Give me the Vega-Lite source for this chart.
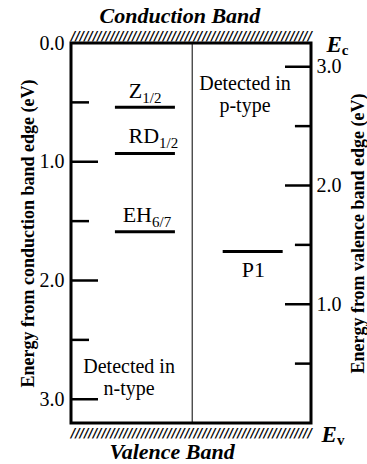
{
  "$schema": "https://vega.github.io/schema/vega-lite/v6.json",
  "width": 240,
  "height": 380,
  "autosize": "none",
  "padding": {"left": 71, "top": 43, "right": 56, "bottom": 41},
  "background": "white",
  "config": {
    "view": {"stroke": "black", "strokeWidth": 3},
    "font": "Liberation Serif",
    "text": {"font": "Liberation Serif", "color": "black"}
  },
  "datasets": {
    "ticks_c": [
      {"ec": 0.5, "kind": "minor"}, {"ec": 1.0, "kind": "major"},
      {"ec": 1.5, "kind": "minor"}, {"ec": 2.0, "kind": "major"},
      {"ec": 2.5, "kind": "minor"}, {"ec": 3.0, "kind": "major"}
    ],
    "ticks_v": [
      {"ev": 0.5, "kind": "minor"}, {"ev": 1.0, "kind": "major"},
      {"ev": 1.5, "kind": "minor"}, {"ev": 2.0, "kind": "major"},
      {"ev": 2.5, "kind": "minor"}, {"ev": 3.0, "kind": "major"}
    ],
    "levels": [
      {"defect": "Z1/2", "panel": "n-type", "ec": 0.54},
      {"defect": "RD1/2", "panel": "n-type", "ec": 0.93},
      {"defect": "EH6/7", "panel": "n-type", "ec": 1.59},
      {"defect": "P1", "panel": "p-type", "ec": 1.755}
    ],
    "labels": [
      {"kind": "level", "main": "Z", "sub": "1/2", "x": 0.297, "ec": 0.467},
      {"kind": "level", "main": "RD", "sub": "1/2", "x": 0.367, "ec": 0.842},
      {"kind": "level", "main": "EH", "sub": "6/7", "x": 0.3375, "ec": 1.507},
      {"kind": "level", "main": "P1", "sub": "", "x": 0.808, "ec": 1.97},
      {"kind": "edge", "main": "E", "sub": "c", "x": 1.128, "ec": 0.076},
      {"kind": "edge", "main": "E", "sub": "v", "x": 1.108, "ec": 3.36}
    ],
    "notes": [
      {"kind": "band", "text": "Conduction Band", "x": 0.454, "ec": -0.17},
      {"kind": "band", "text": "Valence Band", "x": 0.421, "ec": 3.505},
      {"kind": "detect", "text": ["Detected in", "p-type"], "x": 0.725, "ec": 0.396},
      {"kind": "detect", "text": ["Detected in", "n-type"], "x": 0.242, "ec": 2.779}
    ],
    "hatch": [
      {"band": "conduction", "x": 0.0, "ec": -0.06},
      {"band": "valence", "x": 0.0, "ec": 3.28}
    ]
  },
  "resolve": {"scale": {"y": "independent"}},
  "layer": [
    {
      "layer": [
        {
          "data": {"name": "ticks_c"},
          "transform": [{"filter": "datum.kind == 'major'"}],
          "mark": {"type": "rule", "strokeWidth": 2.5, "color": "black"},
          "encoding": {
            "x": {"datum": 0, "scale": {"domain": [0, 1], "nice": false, "zero": false}, "axis": null},
            "x2": {"datum": 0.1125},
            "y": {
              "field": "ec", "type": "quantitative",
              "scale": {"domain": [0, 3.2], "reverse": true, "nice": false, "zero": false},
              "axis": {
                "values": [0, 1, 2, 3], "format": ".1f", "ticks": false, "domain": false, "grid": false,
                "labelFont": "Liberation Serif", "labelFontSize": 20, "labelColor": "black",
                "labelPadding": 7, "labelFlush": false, "labelOverlap": false,
                "title": "Energy from conduction band edge (eV)",
                "titleFont": "Liberation Serif", "titleFontWeight": "bold", "titleFontSize": 18,
                "titleColor": "black", "titleX": -43, "titleY": 190, "titleAngle": 270,
                "titleAlign": "center", "titleBaseline": "middle"
              }
            }
          }
        },
        {
          "data": {"name": "ticks_c"},
          "transform": [{"filter": "datum.kind == 'minor'"}],
          "mark": {"type": "rule", "strokeWidth": 2.5, "color": "black"},
          "encoding": {
            "x": {"datum": 0},
            "x2": {"datum": 0.075},
            "y": {"field": "ec", "type": "quantitative"}
          }
        },
        {
          "data": {"values": [{}]},
          "mark": {"type": "rule", "strokeWidth": 1, "color": "black"},
          "encoding": {
            "x": {"datum": 0.505},
            "y": {"datum": 0},
            "y2": {"datum": 3.2}
          }
        },
        {
          "data": {"name": "levels"},
          "transform": [{"filter": "datum.panel == 'n-type'"}],
          "mark": {"type": "rule", "strokeWidth": 3, "color": "black"},
          "encoding": {
            "x": {"datum": 0.183},
            "x2": {"datum": 0.433},
            "y": {"field": "ec", "type": "quantitative"}
          }
        },
        {
          "data": {"name": "levels"},
          "transform": [{"filter": "datum.panel == 'p-type'"}],
          "mark": {"type": "rule", "strokeWidth": 3, "color": "black"},
          "encoding": {
            "x": {"datum": 0.632},
            "x2": {"datum": 0.882},
            "y": {"field": "ec", "type": "quantitative"}
          }
        },
        {
          "data": {"name": "labels"},
          "transform": [{"filter": "datum.kind == 'level'"}],
          "mark": {"type": "text", "align": "right", "baseline": "alphabetic", "fontSize": 22},
          "encoding": {
            "x": {"field": "x", "type": "quantitative"},
            "y": {"field": "ec", "type": "quantitative"},
            "text": {"field": "main"}
          }
        },
        {
          "data": {"name": "labels"},
          "transform": [{"filter": "datum.kind == 'level'"}],
          "mark": {"type": "text", "align": "left", "baseline": "alphabetic", "fontSize": 15, "dy": 5},
          "encoding": {
            "x": {"field": "x", "type": "quantitative"},
            "y": {"field": "ec", "type": "quantitative"},
            "text": {"field": "sub"}
          }
        },
        {
          "data": {"name": "labels"},
          "transform": [{"filter": "datum.kind == 'edge'"}],
          "mark": {"type": "text", "align": "right", "baseline": "alphabetic", "fontSize": 23, "fontWeight": "bold", "fontStyle": "italic"},
          "encoding": {
            "x": {"field": "x", "type": "quantitative"},
            "y": {"field": "ec", "type": "quantitative"},
            "text": {"field": "main"}
          }
        },
        {
          "data": {"name": "labels"},
          "transform": [{"filter": "datum.kind == 'edge'"}],
          "mark": {"type": "text", "align": "left", "baseline": "alphabetic", "fontSize": 15, "fontWeight": "bold", "dy": 3},
          "encoding": {
            "x": {"field": "x", "type": "quantitative"},
            "y": {"field": "ec", "type": "quantitative"},
            "text": {"field": "sub"}
          }
        },
        {
          "data": {"name": "notes"},
          "transform": [{"filter": "datum.kind == 'band'"}],
          "mark": {"type": "text", "align": "center", "baseline": "alphabetic", "fontSize": 22, "fontWeight": "bold", "fontStyle": "italic"},
          "encoding": {
            "x": {"field": "x", "type": "quantitative"},
            "y": {"field": "ec", "type": "quantitative"},
            "text": {"field": "text"}
          }
        },
        {
          "data": {"name": "notes"},
          "transform": [{"filter": "datum.kind == 'detect'"}],
          "mark": {"type": "text", "align": "center", "baseline": "alphabetic", "fontSize": 20, "lineHeight": 22},
          "encoding": {
            "x": {"field": "x", "type": "quantitative"},
            "y": {"field": "ec", "type": "quantitative"},
            "text": {"field": "text"}
          }
        },
        {
          "data": {"name": "hatch"},
          "mark": {"type": "text", "align": "left", "baseline": "middle", "font": "DejaVu Sans", "fontSize": 12, "fontWeight": "bold", "fontStyle": "italic"},
          "encoding": {
            "x": {"field": "x", "type": "quantitative"},
            "y": {"field": "ec", "type": "quantitative"},
            "text": {"value": "///////////////////////////////////////////////////////"}
          }
        }
      ]
    },
    {
      "layer": [
        {
          "data": {"name": "ticks_v"},
          "transform": [{"filter": "datum.kind == 'major'"}],
          "mark": {"type": "rule", "strokeWidth": 2.5, "color": "black"},
          "encoding": {
            "x": {"datum": 0.8917},
            "x2": {"datum": 1},
            "y": {
              "field": "ev", "type": "quantitative",
              "scale": {"domain": [0, 3.2], "nice": false, "zero": false},
              "axis": {
                "orient": "right",
                "values": [1, 2, 3], "format": ".1f", "ticks": false, "domain": false, "grid": false,
                "labelFont": "Liberation Serif", "labelFontSize": 20, "labelColor": "black",
                "labelPadding": 5, "labelFlush": false, "labelOverlap": false,
                "title": "Energy from valence band edge (eV)",
                "titleFont": "Liberation Serif", "titleFontWeight": "bold", "titleFontSize": 18,
                "titleColor": "black", "titleX": 47, "titleY": 190, "titleAngle": 270,
                "titleAlign": "center", "titleBaseline": "middle"
              }
            }
          }
        },
        {
          "data": {"name": "ticks_v"},
          "transform": [{"filter": "datum.kind == 'minor'"}],
          "mark": {"type": "rule", "strokeWidth": 2.5, "color": "black"},
          "encoding": {
            "x": {"datum": 0.933},
            "x2": {"datum": 1},
            "y": {"field": "ev", "type": "quantitative"}
          }
        }
      ]
    }
  ]
}
